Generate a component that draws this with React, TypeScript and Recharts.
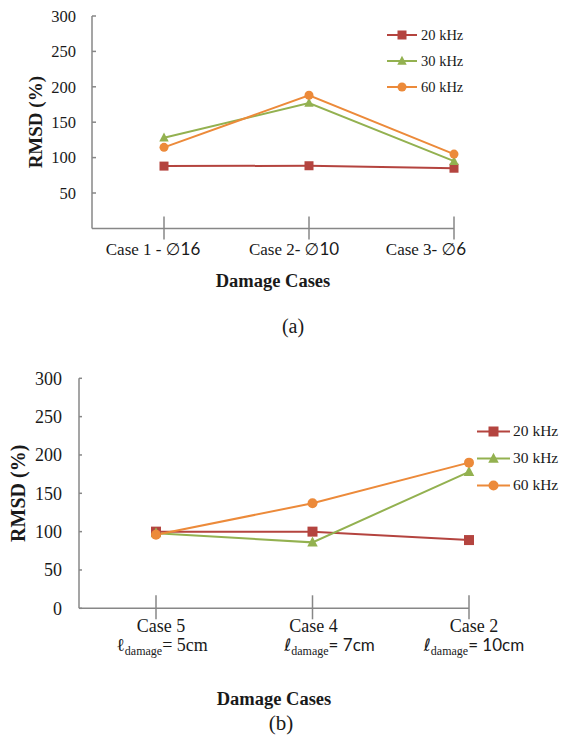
import React from "react";
import { LineChart, Line, XAxis, YAxis, Legend } from "recharts";

// ---------- data ----------
const casesA = ["Case 1 - ∅16", "Case 2- ∅10", "Case 3- ∅6"];
const rmsd20A = [88, 88.5, 85];
const rmsd30A = [128, 177, 95];
const rmsd60A = [114.5, 188, 105];

const casesB = ["Case 5", "Case 4", "Case 2"];
const damageLengthsB = ["5cm", "7cm", "10cm"];
const rmsd20B = [100, 100, 89];
const rmsd30B = [98, 86, 178];
const rmsd60B = [96, 137, 190];

const seriesNames = ["20 kHz", "30 kHz", "60 kHz"];
const ticksA = [50, 100, 150, 200, 250, 300];
const ticksB = [0, 50, 100, 150, 200, 250, 300];

// ---------- style ----------
const SERIF = '"Liberation Serif", "Times New Roman", serif';
const SANS = 'Lato, "Open Sans", "DejaVu Sans", sans-serif';
const AXIS = "#878787";
const TXT = "#1a1a1a";
const SERIES = [
  { key: "f20", color: "#B4443F", shape: "square" },
  { key: "f30", color: "#93B150", shape: "triangle" },
  { key: "f60", color: "#EC8A3A", shape: "circle" },
];

const dataA = casesA.map((c, i) => ({ case: c, f20: rmsd20A[i], f30: rmsd30A[i], f60: rmsd60A[i] }));
const dataB = casesB.map((c, i) => ({ case: c, len: damageLengthsB[i], f20: rmsd20B[i], f30: rmsd30B[i], f60: rmsd60B[i] }));

// ---------- markers ----------
const Marker = ({ shape, cx, cy, size, color }: any) => {
  if (cx == null || cy == null) return null;
  if (shape === "square") {
    return <rect x={cx - size / 2} y={cy - size / 2} width={size} height={size} fill={color} />;
  }
  if (shape === "triangle") {
    const w = size * 1.05;
    const pts = `${cx},${cy - size * 0.58} ${cx - w / 2},${cy + size * 0.42} ${cx + w / 2},${cy + size * 0.42}`;
    return <polygon points={pts} fill={color} />;
  }
  return <circle cx={cx} cy={cy} r={size / 2} fill={color} />;
};

const dotRenderer = (shape: string, color: string, size: number) => (p: any) => (
  <Marker key={`dot-${p.index}`} shape={shape} cx={p.cx} cy={p.cy} size={size} color={color} />
);

// ---------- legend ----------
const LegendContent = ({ payload, rowH, lineW, fs, ms, gap }: any) => (
  <div style={{ fontFamily: SERIF, fontSize: fs, color: TXT }}>
    {(payload || []).map((e: any, i: number) => {
      const s = SERIES.find((x) => x.key === e.dataKey) || SERIES[i];
      return (
        <div key={`lg-${i}`} style={{ display: "flex", alignItems: "center", height: rowH }}>
          <svg width={lineW} height={rowH} style={{ display: "block" }}>
            <line x1={0} x2={lineW} y1={rowH / 2} y2={rowH / 2} stroke={s.color} strokeWidth={2} />
            <Marker shape={s.shape} cx={lineW / 2} cy={rowH / 2} size={ms} color={s.color} />
          </svg>
          <span style={{ marginLeft: gap, lineHeight: 1, whiteSpace: "nowrap" }}>{e.value}</span>
        </div>
      );
    })}
  </div>
);

// ---------- ticks ----------
const YTick = ({ x, y, payload, fs, inner, gap }: any) => (
  <g>
    <line x1={x} x2={x + inner} y1={y} y2={y} stroke={AXIS} strokeWidth={1.5} />
    <text x={x - gap} y={y} dy="0.35em" textAnchor="end" fontFamily={SERIF} fontSize={fs} fill={TXT}>
      {payload.value}
    </text>
  </g>
);

const LABEL_DX_A = [-11, -15, -28];
const XTickA = ({ x, y, payload, index }: any) => {
  const str = String(payload.value);
  const k = str.indexOf("∅");
  const name = k >= 0 ? str.slice(0, k) : str;
  const dia = k >= 0 ? str.slice(k) : "";
  return (
    <g>
      <line x1={x} x2={x} y1={y - 12} y2={y + 11} stroke={AXIS} strokeWidth={1.5} />
      <text x={x + (LABEL_DX_A[index] ?? 0)} y={y + 27} textAnchor="middle" fontSize={17} fill={TXT}>
        <tspan fontFamily={SERIF}>{name}</tspan>
        <tspan fontFamily={SANS} fontSize={17}>{dia}</tspan>
      </text>
    </g>
  );
};

const LINE1_DX_B = [5, 1, 5];
const LINE2_DX_B = [6, 17, 5];
const XTickB = ({ x, y, payload, index }: any) => {
  const len = damageLengthsB[index] ?? "";
  const sansStyle = index > 0;
  return (
    <g>
      <line x1={x} x2={x} y1={y - 13} y2={y + 11} stroke={AXIS} strokeWidth={1.5} />
      <text x={x + (LINE1_DX_B[index] ?? 0)} y={y + 24} textAnchor="middle" fontFamily={SERIF} fontSize={18} fill={TXT}>
        {payload.value}
      </text>
      <text x={x + (LINE2_DX_B[index] ?? 0)} y={y + 43} textAnchor="middle" fontSize={18} fill={TXT} fontFamily={SERIF}>
        <tspan fontFamily={sansStyle ? '"DejaVu Sans", sans-serif' : SERIF} fontSize={sansStyle ? 17 : 18}>ℓ</tspan>
        <tspan fontSize={12} dy={4} fontFamily={SERIF}>damage</tspan>
        <tspan dy={-4} fontFamily={sansStyle ? SANS : SERIF} fontSize={sansStyle ? 17 : 18}>{"= " + len}</tspan>
      </text>
    </g>
  );
};

// ---------- axis titles ----------
const yTitle = (xPos: number, fs: number) => (props: any) => {
  const vb = props.viewBox || {};
  const cy = (vb.y ?? 0) + (vb.height ?? 0) / 2;
  return (
    <text
      x={xPos}
      y={cy}
      transform={`rotate(-90, ${xPos}, ${cy})`}
      textAnchor="middle"
      dominantBaseline="central"
      fontFamily={SERIF}
      fontWeight="bold"
      fontSize={fs}
      fill={TXT}
    >
      RMSD (%)
    </text>
  );
};

const xTitle = (titleDy: number, caption: string, capDx: number, capDy: number, fs: number, capFs: number) => (props: any) => {
  const vb = props.viewBox || {};
  const cx = (vb.x ?? 0) + (vb.width ?? 0) / 2;
  const y0 = vb.y ?? 0;
  return (
    <g>
      <text x={cx} y={y0 + titleDy} textAnchor="middle" dominantBaseline="central" fontFamily={SERIF} fontWeight="bold" fontSize={fs} fill={TXT}>
        Damage Cases
      </text>
      <text x={cx + capDx} y={y0 + capDy} textAnchor="middle" dominantBaseline="central" fontFamily={SERIF} fontSize={capFs} fill={TXT}>
        {caption}
      </text>
    </g>
  );
};

const renderLines = (ms: number) =>
  SERIES.map((s, i) => (
    <Line
      key={s.key}
      type="linear"
      dataKey={s.key}
      name={seriesNames[i]}
      stroke={s.color}
      strokeWidth={2}
      dot={dotRenderer(s.shape, s.color, ms)}
      activeDot={false}
      isAnimationActive={false}
    />
  ));

export default function App() {
  return (
    <div style={{ position: "absolute", left: 0, top: 0, width: 562, height: 735, background: "#fff" }}>
      <div style={{ position: "absolute", left: 0, top: 0 }}>
        <LineChart width={562} height={345} data={dataA} margin={{ top: 16, right: 108, bottom: 6.6, left: 0 }}>
          <XAxis
            dataKey="case"
            type="category"
            scale="point"
            padding={{ left: 72, right: 0 }}
            height={110}
            axisLine={{ stroke: AXIS, strokeWidth: 1.5 }}
            tickLine={false}
            tickSize={0}
            tickMargin={0}
            interval={0}
            tick={<XTickA />}
            label={xTitle(53, "(a)", 20, 98, 18.5, 20)}
          />
          <YAxis
            type="number"
            domain={[0, 300]}
            ticks={ticksA}
            width={92}
            axisLine={{ stroke: AXIS, strokeWidth: 1.5 }}
            tickLine={false}
            tickSize={0}
            tickMargin={0}
            interval={0}
            tick={<YTick fs={16.5} inner={4} gap={16} />}
            label={yTitle(36, 19)}
          />
          {renderLines(9)}
          <Legend
            layout="vertical"
            align="center"
            verticalAlign="middle"
            wrapperStyle={{ left: 387, top: 22, width: "auto", height: "auto" }}
            content={<LegendContent rowH={26} lineW={30} fs={14.5} ms={9} gap={4} />}
          />
        </LineChart>
      </div>
      <div style={{ position: "absolute", left: 0, top: 345 }}>
        <LineChart width={562} height={390} data={dataB} margin={{ top: 33.3, right: 93, bottom: 6.7, left: 0 }}>
          <XAxis
            dataKey="case"
            type="category"
            scale="point"
            padding={{ left: 77, right: 0 }}
            height={120}
            axisLine={{ stroke: AXIS, strokeWidth: 1.5 }}
            tickLine={false}
            tickSize={0}
            tickMargin={0}
            interval={0}
            tick={<XTickB />}
            label={xTitle(91, "(b)", 7, 115, 18.5, 21)}
          />
          <YAxis
            type="number"
            domain={[0, 300]}
            ticks={ticksB}
            width={79}
            axisLine={{ stroke: AXIS, strokeWidth: 1.5 }}
            tickLine={false}
            tickSize={0}
            tickMargin={0}
            interval={0}
            tick={<YTick fs={18} inner={3} gap={17} />}
            label={yTitle(18, 20)}
          />
          {renderLines(10)}
          <Legend
            layout="vertical"
            align="center"
            verticalAlign="middle"
            wrapperStyle={{ left: 477, top: 72.5, width: "auto", height: "auto" }}
            content={<LegendContent rowH={27} lineW={33} fs={15.5} ms={10} gap={3} />}
          />
        </LineChart>
      </div>
    </div>
  );
}
